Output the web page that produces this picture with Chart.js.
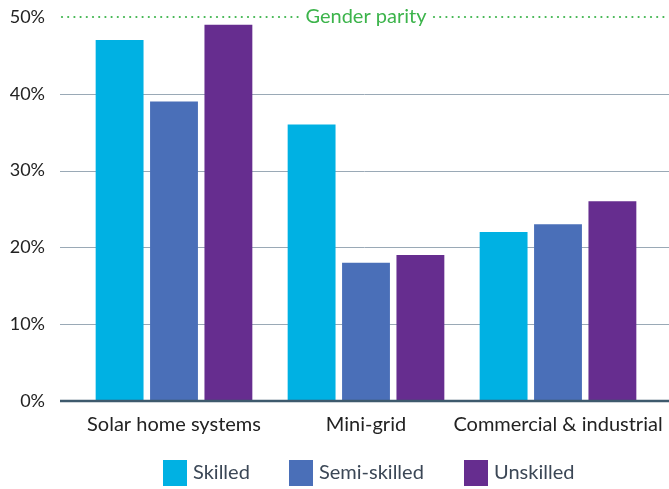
<!DOCTYPE html>
<html>
<head>
<meta charset="utf-8">
<script src="https://cdn.jsdelivr.net/npm/chart.js@4"></script>
<style>
  html, body { margin: 0; padding: 0; background: #fff; }
  #wrap { width: 669px; height: 489px; position: relative; }
</style>
</head>
<body>
<div id="wrap"><canvas id="chart"></canvas></div>
<script>
'use strict';

// categories and shares of women in each skill level
const CATEGORIES = ['Solar home systems', 'Mini-grid', 'Commercial & industrial'];
const SKILLED      = [47, 36, 22];
const SEMI_SKILLED = [39, 18, 23];
const UNSKILLED    = [49, 19, 26];
const Y_TICKS = [0, 10, 20, 30, 40, 50];
const PARITY = 50;
const PARITY_LABEL = 'Gender parity';

const FONT = 'Lato, "Noto Sans", sans-serif';

// full-width gridlines, baseline and the dotted parity line
const refLines = {
  id: 'refLines',
  beforeDatasetsDraw(chart) {
    const { ctx, scales: { y } } = chart;
    ctx.save();
    ctx.strokeStyle = '#9aa9b6';
    ctx.lineWidth = 1;
    Y_TICKS.filter(v => v > 0 && v < PARITY).forEach(v => {
      const py = Math.round(y.getPixelForValue(v)) + 0.5;
      ctx.beginPath();
      ctx.moveTo(60, py);
      ctx.lineTo(chart.width, py);
      ctx.stroke();
    });

    // parity line with label in the middle
    const py = y.getPixelForValue(PARITY);
    ctx.font = '20px ' + FONT;
    ctx.fillStyle = '#3cb44b';
    ctx.textAlign = 'center';
    ctx.textBaseline = 'middle';
    const cx = 366;
    ctx.fillText(PARITY_LABEL, cx, py);
    const half = ctx.measureText(PARITY_LABEL).width / 2 + 6;
    for (let x = 62; x < chart.width - 3; x += 6.2) {
      if (x > cx - half && x < cx + half) continue;
      ctx.beginPath();
      ctx.arc(x, py, 1.1, 0, Math.PI * 2);
      ctx.fill();
    }
    ctx.restore();
  },
  afterDatasetsDraw(chart) {
    const { ctx, scales: { y } } = chart;
    const py = y.getPixelForValue(0);
    ctx.save();
    ctx.strokeStyle = '#3e5a6d';
    ctx.lineWidth = 2.5;
    ctx.beginPath();
    ctx.moveTo(60, py);
    ctx.lineTo(chart.width, py);
    ctx.stroke();
    ctx.restore();
  }
};

// legend row under the axis: coloured squares with the series names
const legendRow = {
  id: 'legendRow',
  afterDraw(chart) {
    const { ctx } = chart;
    const starts = [163, 289, 464];
    const top = 460, box = 24, boxH = 26;
    ctx.save();
    ctx.font = '20px ' + FONT;
    ctx.textBaseline = 'middle';
    ctx.textAlign = 'left';
    chart.data.datasets.forEach((ds, i) => {
      ctx.fillStyle = ds.backgroundColor;
      ctx.fillRect(starts[i], top, box, boxH);
      ctx.fillStyle = '#3b4756';
      ctx.fillText(ds.label, starts[i] + box + 6, top + boxH / 2);
    });
    ctx.restore();
  }
};

const barStyle = { categoryPercentage: 0.85, barPercentage: 0.88, borderWidth: 0 };

new Chart(document.getElementById('chart'), {
  type: 'bar',
  data: {
    labels: CATEGORIES,
    datasets: [
      { label: 'Skilled',      data: SKILLED,      backgroundColor: '#00b1e3', ...barStyle },
      { label: 'Semi-skilled', data: SEMI_SKILLED, backgroundColor: '#4a6fb8', ...barStyle },
      { label: 'Unskilled',    data: UNSKILLED,    backgroundColor: '#662d8f', ...barStyle }
    ]
  },
  options: {
    responsive: true,
    maintainAspectRatio: false,
    animation: false,
    layout: { padding: { top: 17, right: 15, left: 0, bottom: 38 } },
    plugins: {
      tooltip: { enabled: false },
      legend: { display: false }
    },
    scales: {
      x: {
        afterFit(scale) {
          scale.height = 50;
          scale.paddingLeft = 0;
          scale.paddingRight = 0;
        },
        grid: { display: false, drawTicks: false },
        border: { display: false },
        ticks: { color: '#222', font: { family: FONT, size: 20 }, padding: 12, maxRotation: 0, autoSkip: false }
      },
      y: {
        min: 0,
        max: 50,
        afterFit(scale) {
          scale.width = 78;
          scale.paddingTop = 0;
          scale.paddingBottom = 0;
        },
        grid: { display: false, drawTicks: false },
        border: { display: false },
        ticks: {
          stepSize: 10,
          padding: 33,
          color: '#222',
          font: { family: FONT, size: 18 },
          callback: v => v + '%'
        }
      }
    }
  },
  plugins: [refLines, legendRow]
});
</script>
</body>
</html>
